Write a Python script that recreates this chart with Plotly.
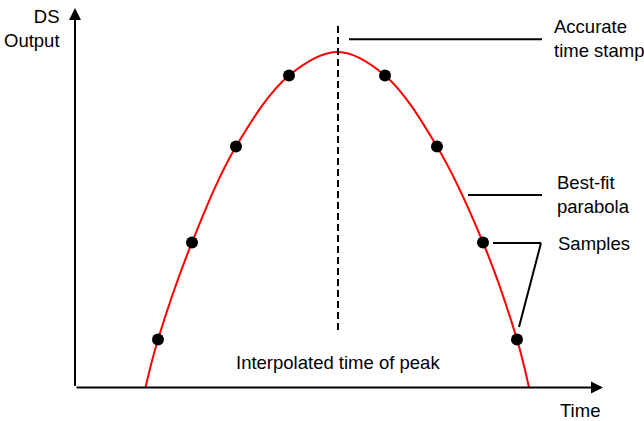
import plotly.graph_objects as go

# samples (time units from the origin, output units up from the time axis)
sample_time = [83, 117, 161, 214, 310, 362, 408, 442]
sample_output = [48, 145, 241, 312, 312, 241, 145, 48]

# best-fit parabola, read at the axis crossings, the samples and the peak
curve_time = [70.5, 83, 117, 161, 214, 263, 310, 362, 408, 442, 454]
curve_output = [0, 48, 145, 241, 312, 335.5, 312, 241, 145, 48, 0]

peak_time = 263
peak_output = 335.5

FONT = dict(family="Liberation Sans, Arial, sans-serif", size=18.5, color="black")

fig = go.Figure()

# best-fit parabola
fig.add_trace(go.Scatter(
    x=curve_time, y=curve_output,
    mode="lines",
    line=dict(color="#ff0000", width=2, shape="spline", smoothing=1),
    hoverinfo="skip",
))

# samples
fig.add_trace(go.Scatter(
    x=sample_time, y=sample_output,
    mode="markers",
    marker=dict(color="black", size=12),
    hoverinfo="skip",
))

# axes with arrow heads
arrow = dict(showarrow=True, arrowhead=2, arrowwidth=2, arrowsize=1.2,
             arrowcolor="black", text="", axref="x", ayref="y", standoff=0)
fig.add_annotation(x=528, y=0, ax=0, ay=0, **arrow)
fig.add_annotation(x=0, y=379.5, ax=0, ay=0, **arrow)

# dashed line at the interpolated peak time (drawn top-down so dashes start at the top)
fig.add_shape(type="line", x0=peak_time, x1=peak_time, y0=361.5, y1=54.5,
              line=dict(color="black", width=2, dash="7px,4px"))

# leader lines
leader = dict(color="black", width=2)
fig.add_shape(type="line", x0=274, x1=467, y0=348.2, y1=348.2, line=leader)
fig.add_shape(type="line", x0=393, x1=467, y0=192.5, y1=192.5, line=leader)
fig.add_shape(type="line", x0=418, x1=466, y0=144.5, y1=144.5, line=leader)
fig.add_shape(type="line", x0=466, x1=444, y0=144.5, y1=60.5, line=leader)

# labels
fig.add_annotation(x=-13, y=359.5, text="DS<br>Output", showarrow=False,
                   xanchor="right", yanchor="middle", align="right", font=FONT)
fig.add_annotation(x=505, y=-22.5, text="Time", showarrow=False,
                   xanchor="center", yanchor="middle", font=FONT)
fig.add_annotation(x=peak_time, y=25.5, text="Interpolated time of peak", showarrow=False,
                   xanchor="center", yanchor="middle", font=FONT)
fig.add_annotation(x=477, y=349.5, text="Accurate<br>time stamp", showarrow=False,
                   xanchor="left", yanchor="middle", align="left", font=FONT)
fig.add_annotation(x=480, y=193.5, text="Best-fit<br>parabola", showarrow=False,
                   xanchor="left", yanchor="middle", align="left", font=FONT)
fig.add_annotation(x=481, y=144.5, text="Samples", showarrow=False,
                   xanchor="left", yanchor="middle", align="left", font=FONT)

fig.update_layout(
    width=644, height=421,
    margin=dict(l=0, r=0, t=0, b=0),
    paper_bgcolor="white", plot_bgcolor="white",
    showlegend=False,
    xaxis=dict(range=[-75, 569], visible=False, fixedrange=True),
    yaxis=dict(range=[-33.5, 387.5], visible=False, fixedrange=True),
)

# drop the page's default body margin so the figure sits at the window corner
fig.write_html("out.html", config={"displayModeBar": False},
               post_script="document.body.style.margin='0';document.body.style.overflow='hidden';")
